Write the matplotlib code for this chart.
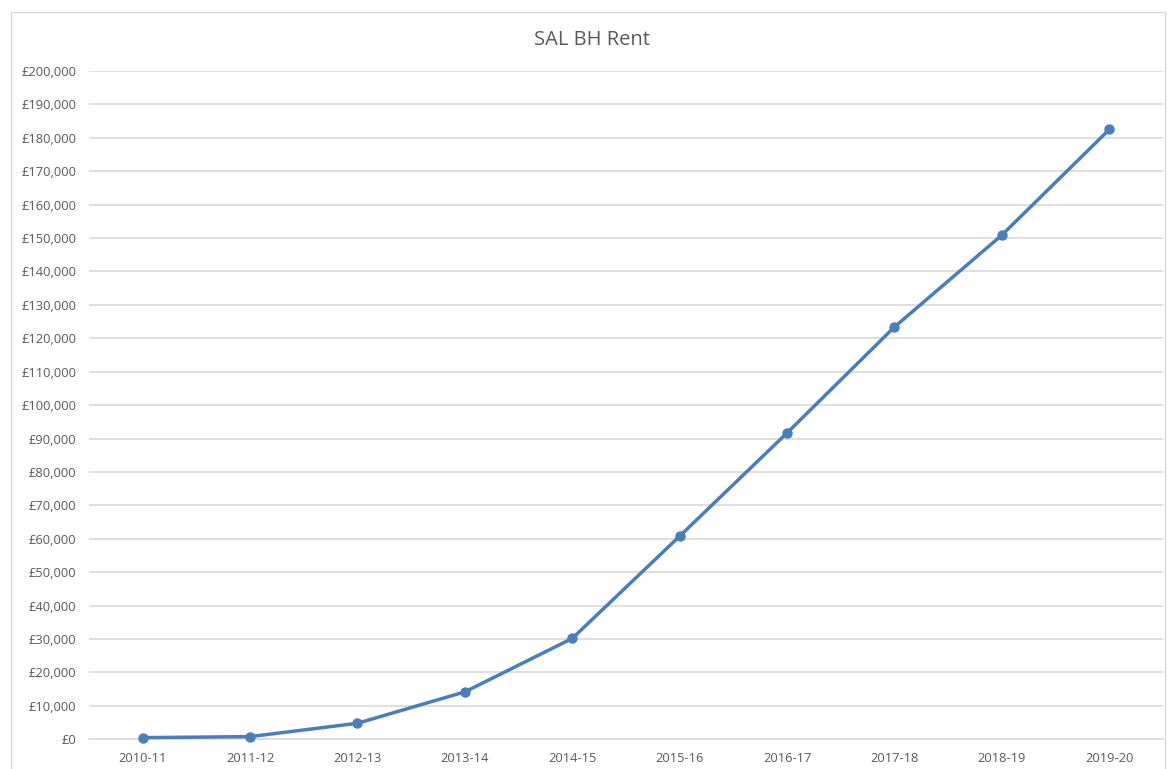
import matplotlib.pyplot as plt
from matplotlib.patches import Rectangle
from matplotlib.ticker import FuncFormatter, MultipleLocator

plt.rcParams['font.family'] = ['Open Sans', 'DejaVu Sans']

years = ['2010-11', '2011-12', '2012-13', '2013-14', '2014-15',
         '2015-16', '2016-17', '2017-18', '2018-19', '2019-20']
rent = [500, 800, 4800, 14200, 30200, 60800, 91700, 123400, 150900, 182500]

line_colour = '#4a7ebb'
grid_colour = '#d9d9d9'
text_colour = '#595959'

fig = plt.figure(figsize=(11.68, 7.69), dpi=100)
fig.patch.set_facecolor('white')

# chart area border
fig.patches.append(Rectangle((11 / 1168, -0.02), 1154 / 1168, 1 - 12 / 769 + 0.02,
                             transform=fig.transFigure, fill=False,
                             edgecolor='#d9d9d9', linewidth=1.0))

ax = fig.add_axes([89 / 1168, 1 - 739.3 / 769, (1163 - 89) / 1168, (739.3 - 71) / 769])
x = range(len(years))
ax.plot(x, rent, color=line_colour, linewidth=2.5, marker='o', markersize=6.5,
        zorder=3, clip_on=False)

ax.set_xlim(-0.5, len(years) - 0.5)
ax.set_ylim(0, 200000)
ax.yaxis.set_major_locator(MultipleLocator(10000))
ax.yaxis.set_major_formatter(FuncFormatter(lambda v, p: '£{:,.0f}'.format(v)))
ax.set_xticks(list(x))
ax.set_xticklabels(years)

ax.grid(axis='y', color=grid_colour, linewidth=1.2)
ax.set_axisbelow(True)
for s in ['top', 'right', 'left']:
    ax.spines[s].set_visible(False)
ax.spines['bottom'].set_color(grid_colour)
ax.spines['bottom'].set_linewidth(1.2)
ax.tick_params(length=0, labelsize=9.3, colors=text_colour)
ax.tick_params(axis='y', pad=9)
ax.tick_params(axis='x', pad=9)

fig.text(592 / 1168, 1 - 40 / 769, 'SAL BH Rent', ha='center', va='center',
         fontsize=14.5, color=text_colour)

fig.savefig('out.png', dpi=100)
